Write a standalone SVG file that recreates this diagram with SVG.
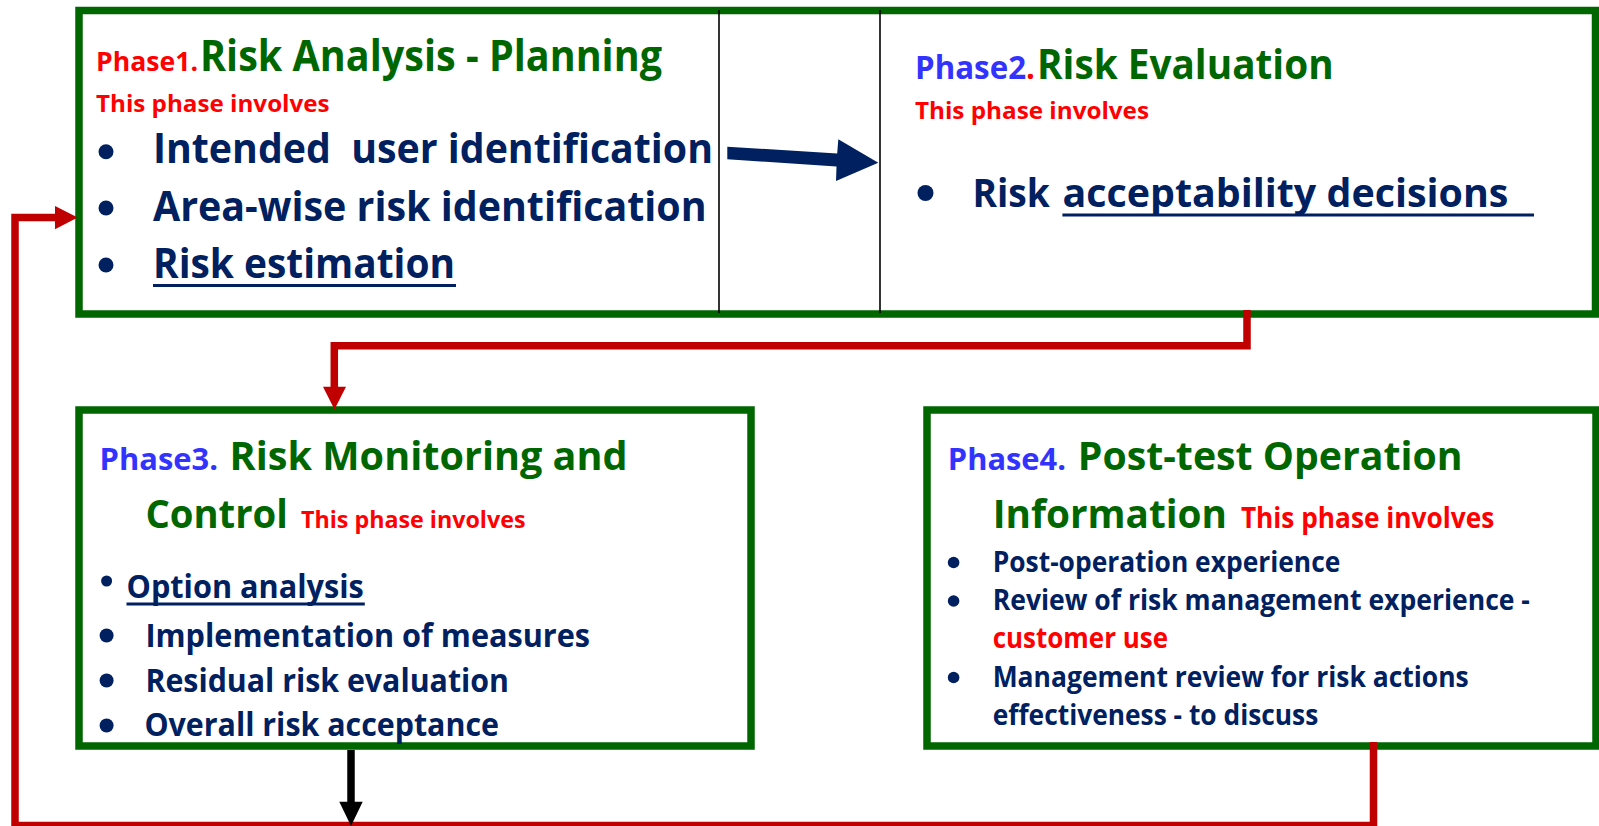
<svg xmlns="http://www.w3.org/2000/svg" width="1599" height="826" viewBox="0 0 1599 826">
<style>
text{font-family:"Open Sans","Liberation Sans",sans-serif;font-weight:700;}
.box{fill:#fff;stroke:#006600;stroke-width:7.5;}
.sep{stroke:#000;stroke-width:1.6;}
.ph{fill:#FF0000;}
.pb{fill:#3333FF;}
.ti{fill:#006600;}
.it{fill:#002060;}
.rd{fill:#FF0000;}
.bul{fill:#002060;}
.ul{stroke:#002060;stroke-width:3;}
.rc{fill:none;stroke:#C00000;stroke-width:7.5;stroke-linejoin:miter;}
.rh{fill:#C00000;}
.bc{fill:none;stroke:#000;stroke-width:7.5;}
</style>
<rect width="1599" height="826" fill="#fff"/>

<g id="top-frame">
<rect class="box" x="79" y="10.5" width="1516.5" height="303.5"/>
<line class="sep" x1="719" y1="10" x2="719" y2="313"/>
<line class="sep" x1="880" y1="10" x2="880" y2="313"/>
</g>

<g id="phase1">
<text class="ph" x="96" y="70.7" font-size="26.6" textLength="102" lengthAdjust="spacingAndGlyphs">Phase1.</text>
<text class="ti" x="200" y="70.7" font-size="43" textLength="462" lengthAdjust="spacingAndGlyphs">Risk Analysis - Planning</text>
<text class="rd" x="96" y="111.7" font-size="23.4" textLength="233.6" lengthAdjust="spacingAndGlyphs">This phase involves</text>
<circle class="bul" cx="106" cy="151.7" r="7.5"/>
<circle class="bul" cx="106" cy="208" r="7.5"/>
<circle class="bul" cx="106" cy="265" r="7.5"/>
<text class="it" x="153" y="163.3" font-size="42" textLength="560" lengthAdjust="spacingAndGlyphs" xml:space="preserve">Intended  user identification</text>
<text class="it" x="153" y="220.7" font-size="42" textLength="553.6" lengthAdjust="spacingAndGlyphs">Area-wise risk identification</text>
<text class="it" x="153" y="278.3" font-size="42" textLength="302" lengthAdjust="spacingAndGlyphs">Risk estimation</text>
<line class="ul" x1="153" y1="285.5" x2="456" y2="285.5"/>
</g>

<g id="phase2">
<text x="915" y="79.3" font-size="31.7" textLength="120" lengthAdjust="spacingAndGlyphs"><tspan class="pb">Phase2</tspan><tspan class="ph">.</tspan></text>
<text class="ti" x="1037" y="79.3" font-size="41" textLength="296.6" lengthAdjust="spacingAndGlyphs">Risk Evaluation</text>
<text class="rd" x="915" y="119.3" font-size="22.4" textLength="234" lengthAdjust="spacingAndGlyphs">This phase involves</text>
<circle class="bul" cx="925.5" cy="193" r="8"/>
<text class="it" x="972.4" y="206.7" font-size="40" textLength="77.4" lengthAdjust="spacingAndGlyphs">Risk</text>
<text class="it" x="1062.4" y="206.7" font-size="40" textLength="446" lengthAdjust="spacingAndGlyphs">acceptability decisions</text>
<line class="ul" x1="1062.4" y1="215" x2="1534" y2="215"/>
</g>

<g id="phase3">
<rect class="box" x="79" y="410" width="672" height="336"/>
<text class="pb" x="99.5" y="470" font-size="30.4" textLength="118.5" lengthAdjust="spacingAndGlyphs">Phase3.</text>
<text class="ti" x="229.6" y="470" font-size="40" textLength="398" lengthAdjust="spacingAndGlyphs">Risk Monitoring and</text>
<text class="ti" x="145.4" y="528.3" font-size="40" textLength="142.6" lengthAdjust="spacingAndGlyphs">Control</text>
<text class="rd" x="301" y="528.3" font-size="23.3" textLength="224.5" lengthAdjust="spacingAndGlyphs">This phase involves</text>
<circle class="bul" cx="106.6" cy="581" r="5.5"/>
<text class="it" x="126.5" y="598.3" font-size="32.6" textLength="237.3" lengthAdjust="spacingAndGlyphs">Option analysis</text>
<line class="ul" x1="126.5" y1="604" x2="364.8" y2="604" stroke-width="2.7"/>
<circle class="bul" cx="106.6" cy="635.5" r="7"/>
<circle class="bul" cx="106.6" cy="680.5" r="7"/>
<circle class="bul" cx="106.6" cy="725.5" r="7"/>
<text class="it" x="145.4" y="646.7" font-size="32.6" textLength="444.6" lengthAdjust="spacingAndGlyphs">Implementation of measures</text>
<text class="it" x="145.4" y="691.7" font-size="32.6" textLength="363.6" lengthAdjust="spacingAndGlyphs">Residual risk evaluation</text>
<text class="it" x="144.4" y="736" font-size="32.6" textLength="354.6" lengthAdjust="spacingAndGlyphs">Overall risk acceptance</text>
</g>

<g id="phase4">
<rect class="box" x="927" y="410" width="669" height="336"/>
<text class="pb" x="947.8" y="470" font-size="30.4" textLength="118.2" lengthAdjust="spacingAndGlyphs">Phase4.</text>
<text class="ti" x="1077.8" y="470" font-size="40" textLength="384.8" lengthAdjust="spacingAndGlyphs">Post-test Operation</text>
<text class="ti" x="992.7" y="528.3" font-size="40" textLength="234.3" lengthAdjust="spacingAndGlyphs">Information</text>
<text class="rd" x="1240.9" y="528.3" font-size="28" textLength="253.3" lengthAdjust="spacingAndGlyphs">This phase involves</text>
<circle class="bul" cx="953.6" cy="562.5" r="5.8"/>
<circle class="bul" cx="953.6" cy="601" r="5.8"/>
<circle class="bul" cx="953.6" cy="677.5" r="5.8"/>
<text class="it" x="992.7" y="571.7" font-size="28" textLength="347.6" lengthAdjust="spacingAndGlyphs">Post-operation experience</text>
<text class="it" x="992.7" y="610" font-size="28" textLength="537.2" lengthAdjust="spacingAndGlyphs">Review of risk management experience -</text>
<text class="rd" x="992.7" y="648.3" font-size="28" textLength="175.3" lengthAdjust="spacingAndGlyphs">customer use</text>
<text class="it" x="992.7" y="686.7" font-size="28" textLength="476" lengthAdjust="spacingAndGlyphs">Management review for risk actions</text>
<text class="it" x="992.7" y="725" font-size="28" textLength="325.6" lengthAdjust="spacingAndGlyphs">effectiveness - to discuss</text>
</g>

<g id="connectors">
<polygon fill="#002060" points="727.3,146.7 837.2,153.5 838.3,139.3 878.3,162.7 836,181 836.5,166.5 727.3,159.3"/>
<path class="rc" d="M1247,310 V345.8 H334.3 V388"/>
<polygon class="rh" points="323,386.7 346,386.7 334.5,409.5"/>
<path class="rc" d="M1373.5,742 V825.5 H15 V217.5 H56"/>
<polygon class="rh" points="55,206 55,229.3 77.7,217.5"/>
<path class="bc" d="M351,750 V802"/>
<polygon fill="#000" points="339.3,801.7 362.7,801.7 351,826"/>
</g>
</svg>
